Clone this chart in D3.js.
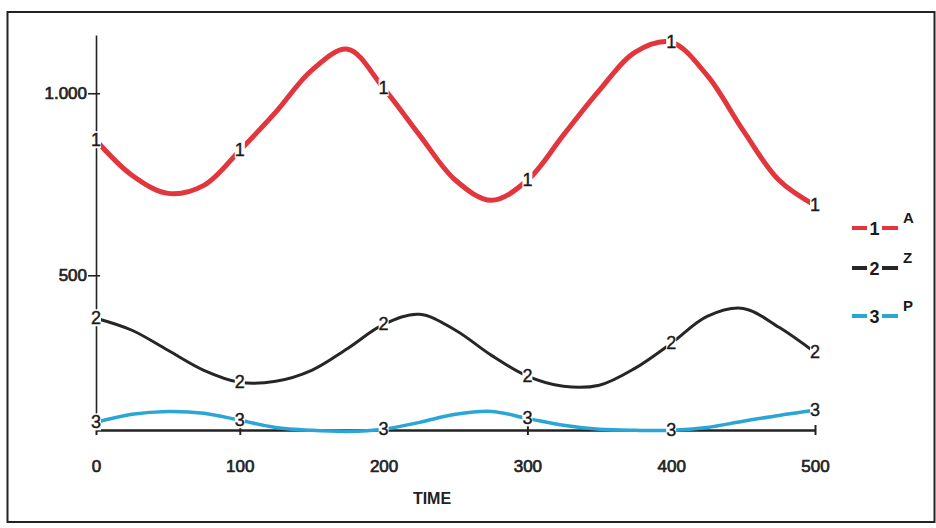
<!DOCTYPE html>
<html>
<head>
<meta charset="utf-8">
<script src="https://cdn.jsdelivr.net/npm/d3@7"></script>
<style>
  html, body { margin: 0; padding: 0; background: #fff; }
  svg { display: block; font-family: "Liberation Sans", Arial, sans-serif; }
</style>
</head>
<body>
<svg id="chart" width="936" height="528"></svg>
<script>
// ---- data ----
const time = [0, 25, 50, 75, 100, 125, 150, 175, 200, 225, 250, 275, 300, 325, 350, 375, 400, 425, 450, 475, 500];
const seriesA = [871, 775, 725, 747, 843, 948, 1063, 1121, 1014, 885, 761, 706, 761, 885, 1008, 1113, 1140, 1049, 898, 761, 692];
const seriesZ = [382, 349, 294, 239, 206, 209, 239, 299, 365, 393, 349, 280, 223, 195, 198, 245, 313, 387, 409, 357, 288];
const seriesP = [96, 118, 126, 121, 102, 82, 74, 71, 77, 96, 118, 126, 107, 88, 77, 74, 74, 82, 99, 115, 129];
const seriesNames = ["A", "Z", "P"];
const seriesIds = ["1", "2", "3"];
const xTicks = [0, 100, 200, 300, 400, 500];
const yTicks = [500, 1000];
const yTickLabels = ["500", "1.000"];
const markerTimes = [0, 100, 200, 300, 400, 500];

const colors = ["#e2363c", "#262626", "#2aa6d6"];
const widths = [5, 3, 3.5];
const allSeries = [seriesA, seriesZ, seriesP];

const svg = d3.select("#chart");

// frame
svg.append("rect").attr("x", 7.5).attr("y", 12).attr("width", 927).attr("height", 510)
  .attr("fill", "none").attr("stroke", "#222").attr("stroke-width", 2);

const x = d3.scaleLinear().domain([0, 500]).range([96, 815]);
const y = d3.scaleLinear().domain([75, 1160]).range([430, 35]);

// y axis
const yAxis = d3.axisLeft(y).tickValues(yTicks).tickFormat((d, i) => yTickLabels[i])
  .tickSize(8).tickPadding(2).tickSizeOuter(0);
const gy = svg.append("g").attr("transform", "translate(96,0)").call(yAxis);
gy.select(".domain").attr("stroke", "#222").attr("stroke-width", 1.6);
gy.selectAll(".tick line").attr("stroke", "#222").attr("stroke-width", 1.6).attr("x2", -8).attr("x1", 4);
gy.selectAll(".tick text").attr("font-size", 17).attr("fill", "#222")
  .attr("stroke", "#222").attr("stroke-width", 0.7).attr("x", -9);

// x axis
const xAxis = d3.axisBottom(x).tickValues(xTicks).tickSize(0).tickPadding(0).tickSizeOuter(0);
const gx = svg.append("g").attr("transform", "translate(0,430)").call(xAxis);
gx.select(".domain").attr("stroke", "#222").attr("stroke-width", 2.4);
gx.selectAll(".tick text").attr("font-size", 17).attr("fill", "#222")
  .attr("stroke", "#222").attr("stroke-width", 0.7).attr("y", 42).attr("dy", "0");
gx.selectAll(".tick").append("line").attr("y1", -5).attr("y2", 5)
  .attr("stroke", "#222").attr("stroke-width", 2);

svg.append("text").attr("x", 432).attr("y", 504).attr("text-anchor", "middle")
  .attr("font-family", "'Liberation Sans Narrow', 'Liberation Sans', Arial, sans-serif")
  .attr("font-weight", "bold").attr("font-size", 16).attr("fill", "#222").text("TIME");

// lines
const line = d3.line().x((d, i) => x(time[i])).y(d => y(d)).curve(d3.curveCatmullRom);
allSeries.forEach((s, k) => {
  svg.append("path").datum(s).attr("d", line).attr("fill", "none")
    .attr("stroke", colors[k]).attr("stroke-width", widths[k])
    .attr("stroke-linejoin", "round").attr("stroke-linecap", "round");
});

// numeric markers on lines
allSeries.forEach((s, k) => {
  markerTimes.forEach(t => {
    const i = time.indexOf(t);
    const cx = x(t), cy = y(s[i]);
    svg.append("rect").attr("x", cx - 5).attr("y", cy - 9).attr("width", 10).attr("height", 17)
      .attr("fill", "#fff");
    svg.append("text").attr("x", cx).attr("y", cy + 6).attr("text-anchor", "middle")
      .attr("font-size", 18).attr("fill", "#1a1a1a").attr("stroke", "#1a1a1a")
      .attr("stroke-width", 0.4).text(seriesIds[k]);
  });
});

// legend
const legY = [228, 268, 316];
seriesIds.forEach((id, k) => {
  const g = svg.append("g").attr("transform", `translate(0,${legY[k]})`);
  g.append("line").attr("x1", 852).attr("x2", 867).attr("y1", 0).attr("y2", 0)
    .attr("stroke", colors[k]).attr("stroke-width", 4);
  g.append("line").attr("x1", 882).attr("x2", 898).attr("y1", 0).attr("y2", 0)
    .attr("stroke", colors[k]).attr("stroke-width", 4);
  g.append("text").attr("x", 874.5).attr("y", 7).attr("text-anchor", "middle")
    .attr("font-size", 18).attr("font-weight", "bold").attr("fill", "#1a1a1a").text(id);
  g.append("text").attr("x", 903).attr("y", -5).attr("text-anchor", "start")
    .attr("font-size", 15).attr("font-weight", "bold").attr("fill", "#1a1a1a").text(seriesNames[k]);
});
</script>
</body>
</html>
